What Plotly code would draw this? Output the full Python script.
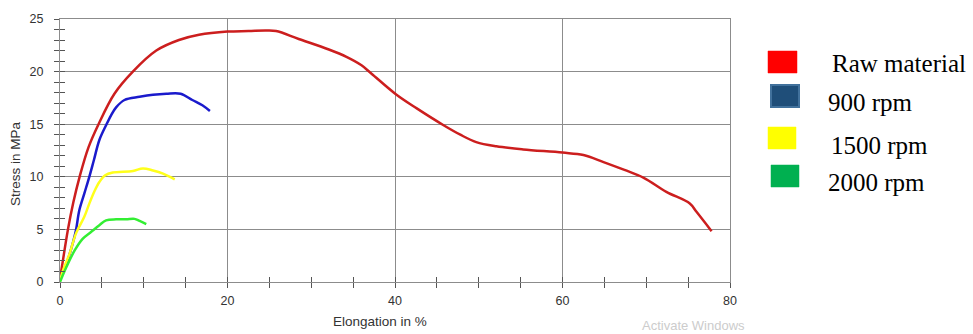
import plotly.graph_objects as go

# Tensile test curves: elongation (%) vs stress (MPa)
raw_x = [0, 0.3, 0.95, 1.6, 2.34, 3.4, 4.6, 6.5, 8.7, 11.5, 14.2, 16.6, 20.0, 22.5, 24.6,
         25.8, 28.5, 32.1, 34.2, 36.0, 37.2, 40.1, 42.6, 45.8, 47.8, 49.7, 52.1, 55.3,
         60.0, 62.5, 64.9, 67.4, 69.7, 72.4, 75.2, 76.0, 77.8]
raw_y = [0.3, 1.8, 5.0, 7.6, 10.0, 12.8, 15.0, 17.9, 20.0, 22.0, 23.0, 23.5, 23.8, 23.85, 23.9,
         23.85, 23.1, 22.1, 21.4, 20.6, 19.8, 17.85, 16.5, 14.9, 14.0, 13.3, 12.9, 12.6,
         12.3, 12.07, 11.4, 10.65, 9.9, 8.57, 7.46, 6.67, 4.83]

rpm900_x = [0, 0.16, 0.75, 1.35, 1.9, 2.3, 2.9, 3.5, 4.05, 4.7, 5.5, 6.1, 6.7, 7.7, 9.5,
            11.1, 12.7, 14.4, 15.8, 17.0, 17.9]
rpm900_y = [0.3, 0.63, 1.7, 3.2, 4.9, 6.8, 8.4, 10.0, 11.6, 13.5, 14.9, 15.85, 16.6, 17.3, 17.6,
            17.8, 17.9, 17.9, 17.3, 16.8, 16.25]

rpm1500_x = [0, 0.36, 1.15, 1.9, 2.9, 3.5, 4.1, 4.7, 5.4, 6.3, 8.7, 9.9, 11.1, 12.3, 13.7]
rpm1500_y = [0.1, 1.1, 2.7, 4.6, 6.2, 7.45, 8.6, 9.5, 10.15, 10.4, 10.55, 10.8, 10.6, 10.3, 9.76]

rpm2000_x = [0, 0.75, 1.75, 2.7, 3.7, 4.7, 5.5, 6.7, 7.9, 8.9, 9.5, 10.3]
rpm2000_y = [0, 1.4, 3.0, 4.1, 4.75, 5.4, 5.86, 5.96, 5.96, 6.0, 5.8, 5.5]

series_names = ["Raw material", "900 rpm", "1500 rpm", "2000 rpm"]
line_colors = ["#CC1E1E", "#1A1ACC", "#FFFF1A", "#33EE33"]
swatch_colors = ["#FF0000", "#1F4E79", "#FFFF00", "#00B050"]

W, H = 973, 334
L, R, T, B = 60, 243, 19, 52
PW, PH = W - L - R, H - T - B


def px(xp):
    return (xp - L) / PW


def py(yp):
    return (H - B - yp) / PH


fig = go.Figure()
series = [(raw_x, raw_y), (rpm900_x, rpm900_y), (rpm1500_x, rpm1500_y), (rpm2000_x, rpm2000_y)]
for (xs, ys), name, col in zip(series, series_names, line_colors):
    fig.add_trace(go.Scatter(x=xs, y=ys, name=name, mode="lines",
                             line=dict(color=col, width=2.5, shape="spline", smoothing=1.0),
                             showlegend=False, hoverinfo="skip"))

# placeholder trace so the inner-tick overlay axes get drawn
fig.add_trace(go.Scatter(x=[None], y=[None], xaxis="x2", yaxis="y2", mode="lines",
                         showlegend=False, hoverinfo="skip"))

tick_font = dict(family="Liberation Sans, Arial", size=12.5, color="#333333")
grid_col = "#8C8C8C"
tick_col = "#555555"

# primary axes carry outside ticks; overlay axes add the inside half so ticks cross the axis line
fig.update_layout(
    width=W, height=H,
    margin=dict(l=L, r=R, t=T, b=B, pad=0),
    paper_bgcolor="white", plot_bgcolor="white",
    xaxis=dict(range=[0, 80], dtick=20, showgrid=True, gridcolor=grid_col, gridwidth=1,
               zeroline=False, showline=True, linecolor=grid_col, linewidth=1, mirror=True,
               ticks="outside", ticklen=5, tickcolor=tick_col, tickfont=tick_font,
               ticklabelstandoff=2,
               minor=dict(dtick=5, ticks="outside", ticklen=5, tickcolor=tick_col, showgrid=False)),
    yaxis=dict(range=[0, 25], dtick=5, showgrid=True, gridcolor=grid_col, gridwidth=1,
               zeroline=False, showline=True, linecolor=grid_col, linewidth=1, mirror=True,
               ticks="outside", ticklen=5, tickcolor=tick_col, tickfont=tick_font,
               ticklabelstandoff=8,
               minor=dict(dtick=1, ticks="outside", ticklen=5, tickcolor=tick_col, showgrid=False)),
    xaxis2=dict(overlaying="x", anchor="y2", side="bottom", range=[0, 80], dtick=20,
                showgrid=False, zeroline=False, showline=False, showticklabels=False,
                ticks="inside", ticklen=5, tickcolor=tick_col,
                minor=dict(dtick=5, ticks="inside", ticklen=5, tickcolor=tick_col, showgrid=False)),
    yaxis2=dict(overlaying="y", anchor="x2", side="left", range=[0, 25], dtick=5,
                showgrid=False, zeroline=False, showline=False, showticklabels=False,
                ticks="inside", ticklen=5, tickcolor=tick_col,
                minor=dict(dtick=1, ticks="inside", ticklen=5, tickcolor=tick_col, showgrid=False)),
)

title_font = dict(family="Liberation Sans, Arial", size=13.5, color="#333333")
fig.add_annotation(text="Elongation in %", xref="paper", yref="paper", x=px(380), y=py(321),
                   xanchor="center", yanchor="middle", showarrow=False, font=title_font)
fig.add_annotation(text="Stress in MPa", xref="paper", yref="paper", x=px(16), y=py(164),
                   xanchor="center", yanchor="middle", textangle=-90, showarrow=False, font=title_font)

# legend: coloured squares with serif labels
swatch_boxes = [(768, 51, 797, 73), (771, 85, 799, 107), (768, 127, 796, 149), (771, 165, 799, 187)]
label_pos = [(830, 63), (826, 102), (829, 145), (826, 182)]
for name, fill, (x0, y0, x1, y1), (lx, ly) in zip(series_names, swatch_colors, swatch_boxes, label_pos):
    outlined = fill == "#1F4E79"
    fig.add_shape(type="rect", xref="paper", yref="paper", x0=px(x0), x1=px(x1), y0=py(y0), y1=py(y1),
                  fillcolor=fill, line=dict(color="#41719C" if outlined else fill,
                                            width=2 if outlined else 0.5))
    fig.add_annotation(text=name, xref="paper", yref="paper", x=px(lx), y=py(ly),
                       xanchor="left", yanchor="middle", showarrow=False,
                       font=dict(family="Liberation Serif, Times New Roman", size=25, color="black"))

fig.add_annotation(text="Activate Windows", xref="paper", yref="paper", x=px(693), y=py(316),
                   xanchor="center", yanchor="top", showarrow=False,
                   font=dict(family="Liberation Sans, Arial", size=13, color="#CCCCCC"))

fig.write_html("out.html")
